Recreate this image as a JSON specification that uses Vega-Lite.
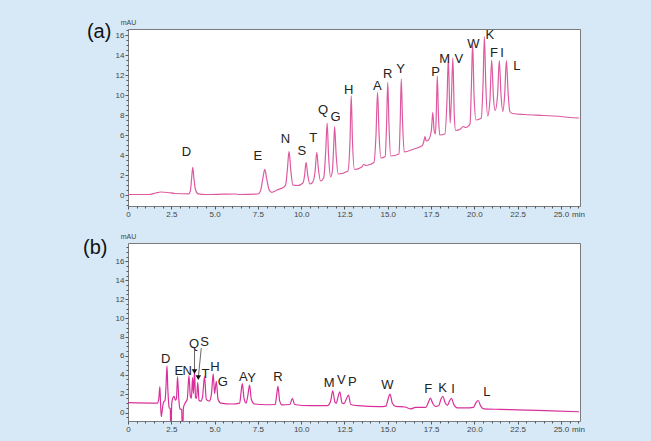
{
  "$schema": "https://vega.github.io/schema/vega-lite/v6.json",
  "background": "#d7e9f6",
  "padding": {"left": 82, "top": 17, "right": 66, "bottom": 8},
  "spacing": 12,
  "config": {
    "font": "Liberation Sans",
    "view": {"fill": "white", "stroke": "#7a7a7a", "strokeWidth": 1},
    "axis": {"grid": false, "domain": false, "labelFontSize": 8, "labelColor": "#444", "tickColor": "#555", "tickSize": 3, "labelPadding": 1, "titleFontWeight": "normal", "titleColor": "#444", "labelFlush": false},
    "text": {"font": "Liberation Sans"}
  },
  "datasets": {
    "a": [
      {"t":0,"v":0.05},{"t":1.2,"v":0.05},{"t":1.6,"v":0.2},{"t":1.9,"v":0.3},{"t":2.3,"v":0.25},{"t":2.7,"v":0.15},{"t":3.5,"v":0.12},{"t":3.6,"v":0.4},{"t":3.67,"v":1.6},{"t":3.74,"v":2.76},{"t":3.81,"v":1.6},{"t":3.9,"v":0.5},{"t":4.05,"v":0.12},{"t":4.5,"v":0.05},{"t":5.5,"v":0.08},{"t":6.2,"v":0.1},{"t":6.4,"v":0.05},{"t":7.5,"v":0.1},
      {"t":7.65,"v":0.4},{"t":7.78,"v":1.6},{"t":7.9,"v":2.56},{"t":8.0,"v":1.7},{"t":8.15,"v":0.5},{"t":8.3,"v":0.26},{"t":8.6,"v":0.5},{"t":9.0,"v":0.8},{"t":9.1,"v":1.0},{"t":9.2,"v":2.5},{"t":9.3,"v":4.36},{"t":9.4,"v":2.5},{"t":9.52,"v":1.0},{"t":9.8,"v":0.95},
      {"t":10.1,"v":1.2},{"t":10.2,"v":2.0},{"t":10.28,"v":3.26},{"t":10.38,"v":2.0},{"t":10.5,"v":1.1},{"t":10.65,"v":1.25},{"t":10.8,"v":2.3},{"t":10.9,"v":4.26},{"t":11.0,"v":2.5},{"t":11.12,"v":1.4},{"t":11.3,"v":1.7},{"t":11.42,"v":4.5},{"t":11.5,"v":7.2},{"t":11.58,"v":4.0},{"t":11.7,"v":1.8},{"t":11.8,"v":2.4},{"t":11.88,"v":5.0},{"t":11.93,"v":6.83},{"t":12.02,"v":4.0},{"t":12.14,"v":2.1},
      {"t":12.7,"v":2.4},{"t":12.82,"v":5.5},{"t":12.89,"v":9.93},{"t":12.96,"v":5.5},{"t":13.08,"v":2.55},{"t":13.5,"v":2.8},{"t":13.6,"v":3.05},{"t":13.75,"v":2.95},{"t":14.2,"v":3.25},{"t":14.32,"v":6.0},{"t":14.41,"v":10.26},{"t":14.5,"v":6.0},{"t":14.6,"v":3.7},{"t":14.85,"v":3.85},{"t":14.93,"v":7.0},{"t":15.0,"v":11.26},{"t":15.07,"v":7.0},{"t":15.17,"v":3.9},
      {"t":15.65,"v":4.1},{"t":15.72,"v":7.5},{"t":15.78,"v":11.6},{"t":15.85,"v":7.5},{"t":15.95,"v":4.3},{"t":16.5,"v":4.6},{"t":17.0,"v":4.95},{"t":17.1,"v":5.5},{"t":17.15,"v":5.83},{"t":17.22,"v":5.4},{"t":17.35,"v":5.5},{"t":17.52,"v":6.5},{"t":17.6,"v":8.26},{"t":17.68,"v":6.4},{"t":17.75,"v":6.1},{"t":17.8,"v":8.0},{"t":17.86,"v":11.9},{"t":17.93,"v":7.8},{"t":18.0,"v":6.0},
      {"t":18.3,"v":6.1},{"t":18.42,"v":9.5},{"t":18.5,"v":13.76},{"t":18.6,"v":7.2},{"t":18.67,"v":9.5},{"t":18.76,"v":13.7},{"t":18.84,"v":8.0},{"t":18.92,"v":6.45},{"t":19.2,"v":6.6},{"t":19.35,"v":6.85},{"t":19.5,"v":6.75},{"t":19.75,"v":7.1},{"t":19.83,"v":11.0},{"t":19.9,"v":15.2},{"t":19.98,"v":10.0},{"t":20.1,"v":7.5},
      {"t":20.4,"v":7.7},{"t":20.5,"v":11.0},{"t":20.58,"v":15.83},{"t":20.66,"v":11.0},{"t":20.77,"v":7.9},{"t":20.9,"v":9.5},{"t":21.0,"v":13.5},{"t":21.1,"v":9.8},{"t":21.2,"v":8.45},{"t":21.34,"v":10.0},{"t":21.44,"v":13.43},{"t":21.54,"v":10.0},{"t":21.64,"v":8.35},{"t":21.75,"v":10.0},{"t":21.85,"v":13.43},{"t":21.95,"v":10.2},{"t":22.05,"v":8.35},
      {"t":22.2,"v":8.15},{"t":22.9,"v":8.05},{"t":24.0,"v":7.95},{"t":25.0,"v":7.85},{"t":25.5,"v":7.75},{"t":26.05,"v":7.7}
    ],
    "b": [
      {"t":0,"v":1.05},{"t":1.7,"v":1.0},{"t":1.78,"v":1.5},{"t":1.84,"v":2.75},{"t":1.88,"v":1.0},{"t":1.92,"v":-0.45},{"t":1.98,"v":0.3},{"t":2.05,"v":1.1},{"t":2.14,"v":1.3},{"t":2.2,"v":3.0},{"t":2.25,"v":4.95},{"t":2.3,"v":2.5},{"t":2.38,"v":0.5},{"t":2.44,"v":0.4},{"t":2.48,"v":-3},{"t":2.52,"v":0.8},
      {"t":2.58,"v":1.5},{"t":2.66,"v":1.7},{"t":2.74,"v":1.3},{"t":2.8,"v":1.5},{"t":2.86,"v":3.8},{"t":2.93,"v":1.5},{"t":3.0,"v":0.4},{"t":3.1,"v":0.3},{"t":3.15,"v":-3},{"t":3.2,"v":0.5},{"t":3.3,"v":1.0},
      {"t":3.42,"v":1.4},{"t":3.52,"v":3.9},{"t":3.6,"v":1.7},{"t":3.66,"v":1.5},{"t":3.73,"v":3.7},{"t":3.78,"v":2.0},{"t":3.84,"v":4.4},{"t":3.9,"v":1.6},{"t":3.96,"v":1.5},{"t":4.03,"v":3.2},{"t":4.1,"v":1.3},{"t":4.2,"v":1.2},{"t":4.3,"v":1.6},{"t":4.42,"v":3.8},{"t":4.52,"v":1.4},{"t":4.7,"v":1.2},{"t":4.82,"v":2.0},{"t":4.92,"v":4.1},{"t":5.0,"v":2.0},{"t":5.1,"v":3.3},{"t":5.2,"v":1.4},{"t":5.35,"v":1.0},
      {"t":6.0,"v":0.9},{"t":6.45,"v":1.0},{"t":6.52,"v":2.0},{"t":6.6,"v":3.05},{"t":6.7,"v":1.5},{"t":6.82,"v":1.0},{"t":6.92,"v":1.8},{"t":7.02,"v":2.9},{"t":7.12,"v":1.4},{"t":7.3,"v":0.9},{"t":8.0,"v":0.82},{"t":8.5,"v":0.85},{"t":8.58,"v":1.8},{"t":8.66,"v":2.78},{"t":8.76,"v":1.2},{"t":8.9,"v":0.8},{"t":9.35,"v":0.85},{"t":9.49,"v":1.5},{"t":9.62,"v":0.85},
      {"t":10.5,"v":0.72},{"t":11.5,"v":0.72},{"t":11.7,"v":1.2},{"t":11.82,"v":2.3},{"t":11.95,"v":1.1},{"t":12.03,"v":1.0},{"t":12.12,"v":1.6},{"t":12.23,"v":2.2},{"t":12.36,"v":1.0},{"t":12.48,"v":0.95},{"t":12.6,"v":1.4},{"t":12.73,"v":1.85},{"t":12.86,"v":0.85},{"t":13.3,"v":0.72},
      {"t":14.5,"v":0.62},{"t":14.9,"v":0.68},{"t":15.0,"v":1.3},{"t":15.13,"v":1.95},{"t":15.26,"v":1.0},{"t":15.45,"v":0.65},{"t":16.0,"v":0.58},{"t":16.33,"v":0.38},{"t":16.6,"v":0.55},{"t":17.2,"v":0.55},{"t":17.35,"v":1.1},{"t":17.46,"v":1.52},{"t":17.6,"v":0.95},{"t":17.75,"v":0.65},{"t":17.95,"v":0.75},{"t":18.05,"v":1.3},{"t":18.18,"v":1.72},{"t":18.32,"v":1.0},{"t":18.45,"v":0.75},{"t":18.56,"v":1.2},{"t":18.68,"v":1.5},{"t":18.8,"v":0.9},{"t":19.0,"v":0.5},
      {"t":19.5,"v":0.48},{"t":19.95,"v":0.55},{"t":20.08,"v":1.0},{"t":20.22,"v":1.27},{"t":20.36,"v":0.7},{"t":20.55,"v":0.38},{"t":21.5,"v":0.33},{"t":23.0,"v":0.25},{"t":24.5,"v":0.18},{"t":26.05,"v":0.08}
    ],
    "la": [
      {"t":3.37,"v":4.26,"l":"D"},{"t":7.49,"v":3.93,"l":"E"},{"t":9.09,"v":5.6,"l":"N"},{"t":10.04,"v":4.36,"l":"S"},{"t":10.69,"v":5.66,"l":"T"},{"t":11.27,"v":8.5,"l":"Q"},{"t":11.98,"v":7.76,"l":"G"},{"t":12.75,"v":10.53,"l":"H"},{"t":14.39,"v":10.93,"l":"A"},{"t":15.0,"v":12.1,"l":"R"},{"t":15.74,"v":12.6,"l":"Y"},{"t":17.76,"v":12.26,"l":"P"},{"t":18.28,"v":13.6,"l":"M"},{"t":19.11,"v":13.6,"l":"V"},{"t":19.94,"v":15.1,"l":"W"},{"t":20.9,"v":16.0,"l":"K"},{"t":21.13,"v":14.16,"l":"F"},{"t":21.6,"v":14.16,"l":"I"},{"t":22.45,"v":12.93,"l":"L"}
    ],
    "lb": [
      {"t":2.17,"v":5.65,"l":"D"},{"t":2.94,"v":4.35,"l":"E"},{"t":3.42,"v":4.35,"l":"N"},{"t":3.81,"v":7.24,"l":"Q"},{"t":4.42,"v":7.45,"l":"S"},{"t":4.48,"v":4.07,"l":"T"},{"t":5.02,"v":4.77,"l":"H"},{"t":5.48,"v":3.28,"l":"G"},{"t":6.66,"v":3.71,"l":"A"},{"t":7.14,"v":3.64,"l":"Y"},{"t":8.66,"v":3.81,"l":"R"},{"t":11.61,"v":3.11,"l":"M"},{"t":12.32,"v":3.39,"l":"V"},{"t":12.96,"v":3.28,"l":"P"},{"t":14.98,"v":2.93,"l":"W"},{"t":17.33,"v":2.48,"l":"F"},{"t":18.16,"v":2.58,"l":"K"},{"t":18.77,"v":2.51,"l":"I"},{"t":20.72,"v":2.12,"l":"L"}
    ],
    "arr": [
      {"t":3.84,"v":6.64,"t2":3.84,"v2":4.5},{"t":4.23,"v":6.82,"t2":4.07,"v2":3.85}
    ],
    "tri": [
      {"t":3.84,"v":4.34},{"t":4.06,"v":3.7}
    ],
    "one": [{"k": 1}]
  },
  "vconcat": [
    {
      "width": 452,
      "height": 177,
      "layer": [
        {
          "data": {"name": "a"},
          "mark": {"type": "line", "color": "#de5aa0", "strokeWidth": 1.2, "interpolate": "monotone", "clip": true},
          "encoding": {
            "x": {"field": "t", "type": "quantitative", "scale": {"domain": [0, 26.1], "nice": false, "zero": false},
              "axis": {"values": [0,2.5,5,7.5,10,12.5,15,17.5,20,22.5,25], "labelExpr": "datum.value == 0 ? '0' : format(datum.value, '.1f')", "title": "min", "titleX": 450, "titleY": 4, "titleAlign": "center", "titleBaseline": "top", "titleFontSize": 8}},
            "y": {"field": "v", "type": "quantitative", "scale": {"domain": [-1.1, 16.6], "nice": false, "zero": false},
              "axis": {"values": [0,2,4,6,8,10,12,14,16], "title": "mAU", "titleAngle": 0, "titleX": 0, "titleY": -4, "titleAlign": "center", "titleBaseline": "bottom", "titleFontSize": 7}}
          }
        },
        {
          "data": {"name": "la"},
          "mark": {"type": "text", "fontSize": 13, "color": "#222", "baseline": "middle", "align": "center"},
          "encoding": {
            "x": {"field": "t", "type": "quantitative", "axis": {"values": [0.5,1,1.5,2,3,3.5,4,4.5,5.5,6,6.5,7,8,8.5,9,9.5,10.5,11,11.5,12,13,13.5,14,14.5,15.5,16,16.5,17,18,18.5,19,19.5,20.5,21,21.5,22,23,23.5,24,24.5,25.5,26], "labels": false, "tickSize": 2, "title": null, "orient": "bottom"}},
            "y": {"field": "v", "type": "quantitative", "axis": {"values": [-1,-0.5,0.5,1,1.5,2.5,3,3.5,4.5,5,5.5,6.5,7,7.5,8.5,9,9.5,10.5,11,11.5,12.5,13,13.5,14.5,15,15.5,16.5], "labels": false, "tickSize": 2, "title": null, "orient": "left"}},
            "text": {"field": "l"}
          }
        },
        {
          "data": {"name": "one"},
          "mark": {"type": "text", "fontSize": 20, "color": "#111", "baseline": "alphabetic", "align": "left"},
          "encoding": {
            "x": {"datum": -2.37, "type": "quantitative", "axis": null},
            "y": {"datum": 15.68, "type": "quantitative", "axis": null},
            "text": {"value": "(a)"}
          }
        }
      ],
      "resolve": {"axis": {"x": "independent", "y": "independent"}}
    },
    {
      "width": 452,
      "height": 178,
      "layer": [
        {
          "data": {"name": "b"},
          "mark": {"type": "line", "color": "#d8309a", "strokeWidth": 1.2, "interpolate": "monotone", "clip": true},
          "encoding": {
            "x": {"field": "t", "type": "quantitative", "scale": {"domain": [0, 26.1], "nice": false, "zero": false},
              "axis": {"values": [0,2.5,5,7.5,10,12.5,15,17.5,20,22.5,25], "labelExpr": "datum.value == 0 ? '0' : format(datum.value, '.1f')", "title": "min", "titleX": 450, "titleY": 4, "titleAlign": "center", "titleBaseline": "top", "titleFontSize": 8}},
            "y": {"field": "v", "type": "quantitative", "scale": {"domain": [-0.9, 17.95], "nice": false, "zero": false},
              "axis": {"values": [0,2,4,6,8,10,12,14,16], "title": "mAU", "titleAngle": 0, "titleX": 0, "titleY": -4, "titleAlign": "center", "titleBaseline": "bottom", "titleFontSize": 7}}
          }
        },
        {
          "data": {"name": "arr"},
          "mark": {"type": "rule", "color": "#444", "strokeWidth": 0.8},
          "encoding": {
            "x": {"field": "t", "type": "quantitative", "axis": null},
            "y": {"field": "v", "type": "quantitative", "axis": null},
            "x2": {"field": "t2"},
            "y2": {"field": "v2"}
          }
        },
        {
          "data": {"name": "tri"},
          "mark": {"type": "point", "shape": "triangle-down", "filled": true, "color": "#111", "size": 30, "opacity": 1},
          "encoding": {
            "x": {"field": "t", "type": "quantitative", "axis": null},
            "y": {"field": "v", "type": "quantitative", "axis": null}
          }
        },
        {
          "data": {"name": "lb"},
          "mark": {"type": "text", "fontSize": 13, "color": "#222", "baseline": "middle", "align": "center"},
          "encoding": {
            "x": {"field": "t", "type": "quantitative", "axis": {"values": [0.5,1,1.5,2,3,3.5,4,4.5,5.5,6,6.5,7,8,8.5,9,9.5,10.5,11,11.5,12,13,13.5,14,14.5,15.5,16,16.5,17,18,18.5,19,19.5,20.5,21,21.5,22,23,23.5,24,24.5,25.5,26], "labels": false, "tickSize": 2, "title": null, "orient": "bottom"}},
            "y": {"field": "v", "type": "quantitative", "axis": {"values": [-0.5,0.5,1,1.5,2.5,3,3.5,4.5,5,5.5,6.5,7,7.5,8.5,9,9.5,10.5,11,11.5,12.5,13,13.5,14.5,15,15.5,16.5,17,17.5], "labels": false, "tickSize": 2, "title": null, "orient": "left"}},
            "text": {"field": "l"}
          }
        },
        {
          "data": {"name": "one"},
          "mark": {"type": "text", "fontSize": 20, "color": "#111", "baseline": "alphabetic", "align": "left"},
          "encoding": {
            "x": {"datum": -2.6, "type": "quantitative", "axis": null},
            "y": {"datum": 16.82, "type": "quantitative", "axis": null},
            "text": {"value": "(b)"}
          }
        }
      ],
      "resolve": {"axis": {"x": "independent", "y": "independent"}}
    }
  ]
}
